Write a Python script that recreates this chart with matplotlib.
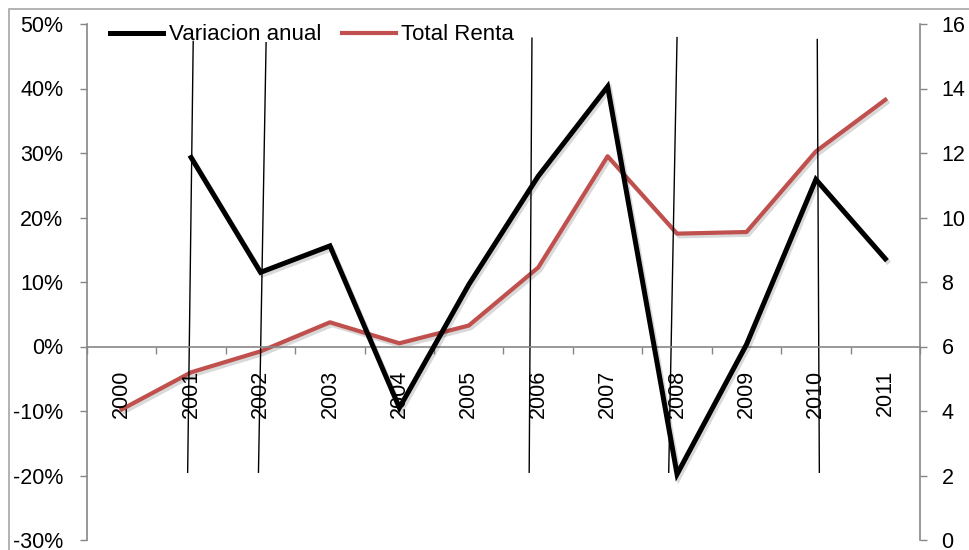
import matplotlib
matplotlib.use("Agg")
import matplotlib.pyplot as plt
import matplotlib.patheffects as pe
from matplotlib.patches import Rectangle
from matplotlib.ticker import FuncFormatter, FixedLocator

plt.rcParams['font.family'] = ['Liberation Sans', 'DejaVu Sans']

years = ['2000', '2001', '2002', '2003', '2004', '2005', '2006', '2007',
         '2008', '2009', '2010', '2011']
# Variacion anual (%), left axis; no value for 2000
variacion = [None, 29.3, 11.5, 15.6, -9.5, 9.6, 26.4, 40.3, -19.8, 0.3, 25.9, 13.6]
# Total Renta, right axis
total_renta = [4.05, 5.2, 5.85, 6.75, 6.1, 6.65, 8.45, 11.9, 9.5, 9.55, 12.05, 13.65]

# thin hand-drawn marker lines (category position at top / bottom, % values)
mark_x_top = [1.03, 2.08, 5.91, 8.0, 10.02]
mark_x_bottom = [0.95, 1.97, 5.87, 7.88, 10.05]
mark_y_top = [47.3, 47.1, 47.8, 47.9, 47.6]
mark_y_bottom = -19.5

left_ticks = [-30, -20, -10, 0, 10, 20, 30, 40, 50]
right_ticks = [0, 2, 4, 6, 8, 10, 12, 14, 16]

grey = '#868686'
red = '#C0504D'
fs = 15.5

fig = plt.figure(figsize=(9.69, 5.5), dpi=100)
fig.patches.append(Rectangle((9 / 969, -0.1), 1.2, 1 - 9 / 550 + 0.1,
                             transform=fig.transFigure, fill=False,
                             edgecolor='#a6a6a6', linewidth=1.2))
ax = fig.add_axes([87 / 969, 1 - 540 / 550, 833 / 969, 516 / 550])
ax2 = ax.twinx()

x = list(range(len(years)))
shadow = [pe.SimpleLineShadow(offset=(1.5, -2), shadow_color='k', alpha=0.15),
          pe.Normal()]

vx = [xi for xi, v in zip(x, variacion) if v is not None]
vy = [v for v in variacion if v is not None]
l1, = ax.plot(vx, vy, color='black', lw=3.6, solid_joinstyle='miter',
              path_effects=shadow, zorder=3, label='Variacion anual')
l2, = ax2.plot(x, total_renta, color=red, lw=3.0, solid_joinstyle='round',
               path_effects=shadow, zorder=3, label='Total Renta')

for xt, xb, yt in zip(mark_x_top, mark_x_bottom, mark_y_top):
    ax2.plot([xt, xb], [(yt + 30) / 80 * 16, (mark_y_bottom + 30) / 80 * 16],
             color='black', lw=1.0, zorder=5)

ax.set_xlim(-0.5, len(years) - 0.5)
ax.set_ylim(-30, 50)
ax2.set_ylim(0, 16)

ax.set_yticks(left_ticks)
ax.yaxis.set_major_formatter(FuncFormatter(lambda v, p: f'{v:.0f}%'))
ax2.set_yticks(right_ticks)
ax2.yaxis.set_major_formatter(FuncFormatter(lambda v, p: f'{v:.0f}'))

ax.set_xticks(x)
ax.set_xticklabels(years)
ax.xaxis.set_minor_locator(FixedLocator([i + 0.5 for i in range(-1, len(years))]))
ax.tick_params(axis='x', which='major', length=0, pad=16.5, labelsize=fs,
               labelrotation=90)
for t in ax.get_xticklabels():
    t.set_verticalalignment('top')
    t.set_horizontalalignment('center')
ax.tick_params(axis='x', which='minor', length=5, width=1, color=grey,
               direction='out')
ax.tick_params(axis='y', length=5, width=1, color=grey, pad=12, labelsize=fs)
ax2.tick_params(axis='y', length=5, width=1, color=grey, pad=10.5, labelsize=fs)

for s in ['top', 'right']:
    ax.spines[s].set_visible(False)
ax.spines['bottom'].set_position(('data', 0))
ax.spines['bottom'].set_color(grey)
ax.spines['left'].set_color(grey)
for s in ['top', 'left', 'bottom']:
    ax2.spines[s].set_visible(False)
ax2.spines['right'].set_color(grey)
for s in [ax.spines['bottom'], ax.spines['left'], ax2.spines['right']]:
    s.set_linewidth(1.2)

ax.set_zorder(ax2.get_zorder() + 1)
ax.patch.set_visible(False)

leg = ax.legend(handles=[l1, l2], loc='center left',
                bbox_to_anchor=((110 - 87) / 833, (540 - 35) / 516),
                ncol=2, frameon=False, fontsize=16, handlelength=2.4,
                handletextpad=0.25, columnspacing=0.95, borderpad=0,
                borderaxespad=0)
for h in leg.legend_handles:
    h.set_path_effects([])

fig.savefig('out.png', dpi=100)
